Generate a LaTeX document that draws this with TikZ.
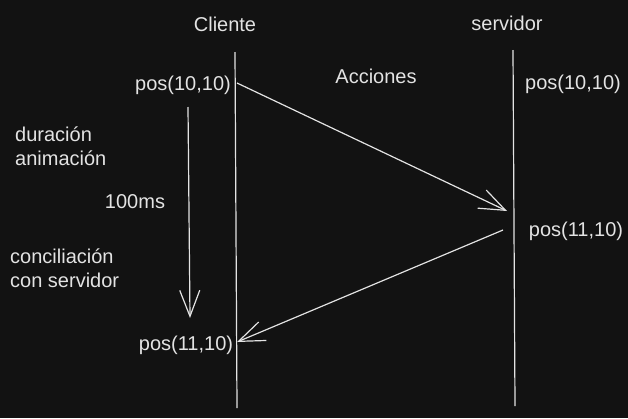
\documentclass[tikz,border=0pt]{standalone}
\usepackage{fontspec}
\setmainfont{Liberation Sans}
\usetikzlibrary{arrows.meta}
\definecolor{bg}{HTML}{121212}
\definecolor{ink}{HTML}{E3E3E3}
\begin{document}
\begin{tikzpicture}[x=1pt,y=-1pt,
  lbl/.style={text=ink,font=\fontsize{20}{24}\selectfont,inner sep=0pt},
  lline/.style={draw=ink,line width=1.2pt},
  barb/.style={draw=ink,line width=1.2pt,-{Straight Barb[length=26pt,width=20pt,line width=1.2pt]}}]
\fill[bg] (0,0) rectangle (628,418);
\useasboundingbox (0,0) rectangle (628,418);
% titles
\node[lbl] (cli) at (225,24) {Cliente};
\node[lbl] (srv) at (507,23) {servidor};
\node[lbl] (acc) at (376,76) {Acciones};
% lifelines
\coordinate (ctop) at (235,52);
\coordinate (cbot) at (237,408);
\coordinate (stop) at (513,50);
\coordinate (sbot) at (515,406);
\draw[lline] (ctop) -- (cbot);
\draw[lline] (stop) -- (sbot);
% labels
\node[lbl] (p1) at (183,85) {pos(10,10)};
\node[lbl] (p2) at (573,84) {pos(10,10)};
\node[lbl] (p3) at (576,231) {pos(11,10)};
\node[lbl] (p4) at (186,345) {pos(11,10)};
\node[lbl,align=left,anchor=west] (dur) at (15,146) {duración\\animación};
\node[lbl] (ms) at (135,202) {100ms};
\node[lbl,align=left,anchor=west] (con) at (10,268) {conciliación\\con servidor};
% arrows
\coordinate (a1s) at (237,83);
\coordinate (a1e) at (507,211);
\coordinate (a2s) at (503,230);
\coordinate (a2e) at (237,342);
\coordinate (vs) at (188,107);
\coordinate (ve) at (190,318);
\draw[barb] (a1s) -- (a1e);
\draw[barb] (a2s) -- (a2e);
\draw[barb] (vs) -- (ve);
\end{tikzpicture}
\end{document}
